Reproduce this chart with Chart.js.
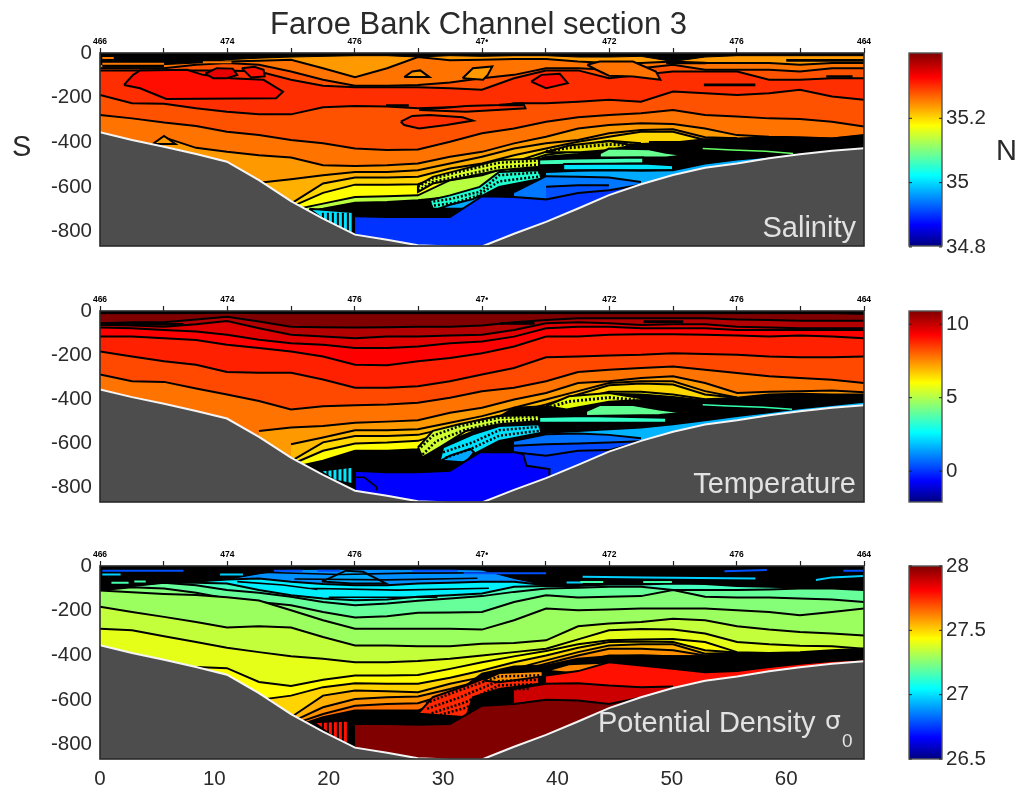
<!DOCTYPE html>
<html><head><meta charset="utf-8">
<script src="https://cdn.jsdelivr.net/npm/chart.js@4"></script>
<style>
html,body{margin:0;padding:0;background:#fff;width:1018px;height:791px;overflow:hidden}
#page{position:relative;width:1018px;height:791px;filter:blur(0.45px);font-family:"Liberation Sans",Arial,sans-serif;color:#2a2a2a}
canvas{position:absolute}
.t{position:absolute;white-space:nowrap;line-height:1}
.w{color:#e2e2e2;font-size:29px}
</style></head><body><div id="page">
<div class="t" style="left:270px;top:8px;font-size:31px">Faroe Bank Channel section 3</div>
<div class="t" style="left:12px;top:132px;font-size:29px">S</div>
<div class="t" style="left:996px;top:136px;font-size:29px">N</div>
<div class="t w" style="right:162px;top:213px;z-index:5">Salinity</div>
<div class="t w" style="right:162px;top:469px;z-index:5">Temperature</div>
<div class="t w" style="left:598px;top:708px;z-index:5">Potential Density</div>
<div class="t w" style="left:825px;top:708px;z-index:5;font-family:'DejaVu Sans';font-size:25px">σ</div>
<div class="t w" style="left:842px;top:731px;z-index:5;font-size:19px">0</div>
</div>
<script>
// ---------- axes ----------
const stations=[0,2.8,5.6,8.4,11.1,13.9,16.7,19.5,22.3,25.1,27.8,30.6,33.4,36.2,39,41.8,44.5,47.3,50.1,52.9,55.7,58.5,61.2,64,66.8];
const surfaceZ=[0,0,0,0,0,0,0,0,0,0,0,0,0,0,0,0,0,0,0,0,0,0,0,0,0];
const topTickValues=[0,5.57,11.13,16.7,22.27,27.83,33.4,38.97,44.53,50.1,55.67,61.23,66.8];
const topTickLabels=['466','','474','','476','','47\u2022','','472','','476','','464'];
const depthTicks=[0,-200,-400,-600,-800];
const distanceTicks=[0,10,20,30,40,50,60];
const salinityTicks=[34.8,35,35.2];
const temperatureTicks=[0,5,10];
const densityTicks=[26.5,27,27.5,28];
// ---------- sea floor ----------
const seaFloor=[355,390,420,453,487,570,664,742,814,837,862,867,867,810,757,697,637,588,547,514,495,472,454,438,427];
// ---------- salinity contours (depth, m) ----------
const salC1=[30,38,38,35,38,35,30,68,108,68,18,33,30,27,27,38,45,45,38,45,45,45,53,45,45];
const salC2=[68,68,68,53,45,53,83,120,147,147,143,132,113,98,68,68,75,68,53,75,75,75,83,68,68];
const salC3=[78,78,78,78,78,83,120,147,153,153,153,158,165,113,78,78,113,98,83,83,83,120,120,113,113];
const salC4=[188,225,228,248,263,275,275,243,237,240,248,243,255,225,225,218,210,218,173,180,188,180,165,195,210];
const salC5=[278,293,312,327,353,368,390,405,428,435,432,398,360,338,308,288,278,270,255,278,285,293,296,308,330];
const salC6=[null,null,378,425,443,458,468,503,506,503,495,465,443,405,375,338,323,315,318,338,368,375,378,383,368];
const salC7=[null,null,null,null,null,582,566,548,533,533,525,495,465,428,405,390,360,345,342,378,382,null,null,null,null];
const salC8=[null,null,null,null,null,null,675,585,558,558,555,518,495,458,428,398,375,353,353,390,383,null,null,null,null];
const salC9=[null,null,null,null,null,null,690,627,590,590,588,540,525,488,443,416,393,405,null,null,null,null,null,null,null];
const salC10=[null,null,null,null,null,null,705,675,645,642,638,570,548,503,456,438,420,407,null,null,null,null,null,null,null];
const salBlack=[null,null,null,null,null,null,720,698,671,668,660,645,615,518,465,453,429,408,402,387,383,378,381,383,371];
const salSky=[null,null,null,null,null,null,null,null,null,null,null,null,null,null,533,528,525,528,525,495,477,465,447,434,420];
const salBlue=[null,null,null,null,null,null,null,null,null,null,null,null,null,623,552,555,558,578,null,null,null,null,null,null,null];
const salBlue2=[null,null,null,null,null,null,null,null,null,null,null,null,null,null,600,593,593,null,null,null,null,null,null,null,null];
const salDeep=[null,null,null,null,null,null,null,null,732,735,735,735,642,645,656,627,615,590,null,null,null,null,null,null,null];
const salTop=[52,52,52,45,30,23,18,15,12,12,18,12,15,12,12,18,18,15,38,18,12,12,12,12,12];
// salinity closed contours
const salCoreX=[2.1,2.9,3.5,7.6,9,11.4,14.3,16,15.4,5.8,3.5,2.1], salCoreZ=[143,98,78,75,98,113,120,173,203,206,158,143];
const salLensAX=[9.2,10.2,11.6,12,11.1,9.9,9.2], salLensAZ=[93,68,70,98,113,113,93];
const salLensBX=[12.4,13.5,14.3,14.4,13.2,12.4], salLensBZ=[68,62,75,105,110,68];
const salWedgeAX=[26.6,27.3,28,28.8,26.6], salWedgeAZ=[108,83,78,108,108];
const salPatchAX=[26.3,27.3,28.8,31.7,32.6,30.3,27.9,26.6,26.3], salPatchAZ=[308,282,278,288,303,323,338,323,308];
const salPatchBX=[27.9,32,34.9,37,37.2,32,27.9], salPatchBZ=[255,237,233,225,248,263,255];
const salWedgeBX=[31.7,32.6,34.3,33.9,33.5,31.7], salWedgeBZ=[113,68,60,98,120,113];
const salCoreBX=[37.7,38.6,40.2,40.9,39,37.7], salCoreBZ=[128,98,93,135,158,128];
const salShelfX=[42.6,43.7,46.6,48.6,49,46.6,44.5,43.4,42.6], salShelfZ=[53,38,38,83,120,105,102,75,53];
const salBumpX=[4.6,5.6,6.6,4.6], salBumpZ=[408,372,408,408];
const salHatchYX=[27.8,29.1,31.4,34.9,38.4,38.4,34.9,32.1,29.1,27.8,27.8], salHatchYZ=[593,555,525,480,473,510,525,555,585,623,593];
const salHatchCX=[28.8,30.6,33.2,34.9,38.4,38.6,34.9,33.2,32.6,29.1,28.8], salHatchCZ=[660,638,600,533,525,563,600,645,698,698,660];
const salHatchBX=[30.6,32.6,33.2,32.6,29.6,30.6], salHatchBZ=[680,655,640,698,698,680];
const salHatchLX=[39,41,44.5,46.6,44.5,42,39], salHatchLZ=[445,415,395,415,435,445,445];
const salGreenX=[43.7,44.5,48,49.5,51.2,49.5,43.7,43.7], salGreenZ=[450,428,431,447,458,468,468,450];
const salAquaX=[38.4,41.6,47.5,47.5,38.4,38.4], salAquaZ=[477,473,468,495,503,477];
const salCyanX=[40.5,47.5,50.1,50.1,40.5,40.5], salCyanZ=[498,495,503,525,525,498];
const salWedgeX=[18.3,22.1,22.1,20.4,18.3], salWedgeZ=[698,713,810,780,698];
const salStripeX=[19.4,22.1], salStripeZ=[765,765];
const salDashAX=[27.8,29.1,31.4,34.9,38.4], salDashAZ=[600,562,532,492,482];
const salDashDX=[27.8,29.1,31.8,34.9,38.4], salDashDZ=[616,578,548,512,500];
const salDashBX=[28.8,30.6,33.2,34.9,38.5], salDashBZ=[668,655,622,548,535];
const salDashEX=[29.2,31,33,34.9,38.5], salDashEZ=[683,672,640,575,553];
const salDashCX=[39,41,44.5,46.6], salDashCZ=[440,425,410,412];
const salBarX=[48,51.5,null,52.8,57.3,null,63.5,65.8,null,49.5,53,null,25,27,null,34.9,37,null,0.2,5.6,null,60,66.8], salBarZ=[400,400,null,143,143,null,105,105,null,45,45,null,235,235,null,233,233,null,60,60,null,33,33];
const salStreakOX=[0.2,5.6,null,0.2,1.2,null,9,11.5], salStreakOZ=[48,48,null,22,22,null,42,42];
const salThinGX=[52.7,55.3,58.2,60.6], salThinGZ=[428,435,440,450];
// ---------- temperature contours (depth, m) ----------
const tempC1=[56,51,51,38,26,48,71,74,75,74,71,71,66,51,41,33,33,33,33,33,38,41,44,44,44];
const tempC2=[63,66,71,60,45,78,108,116,123,116,116,111,108,86,56,51,56,63,60,60,71,75,78,78,78];
const tempC3=[75,78,86,93,108,130,146,153,168,168,161,146,138,116,78,71,71,78,78,78,86,86,86,86,86];
const tempC4=[116,116,123,131,153,168,183,206,243,246,228,213,191,161,116,116,108,105,105,108,111,116,111,116,123];
const tempC5=[183,206,228,243,276,280,280,310,348,348,341,318,288,258,210,206,201,198,191,195,198,206,210,210,206];
const tempC6=[288,318,321,351,378,408,446,431,427,423,416,393,363,348,318,276,266,258,251,266,281,296,303,311,326];
const tempC7=[null,null,null,null,null,543,528,521,506,501,495,461,438,401,371,326,318,303,296,326,371,366,363,360,368];
const tempC8=[null,null,null,null,null,null,603,573,540,540,536,506,476,438,401,363,326,318,318,363,392,null,null,null,null];
const tempC9=[null,null,null,null,null,null,680,595,566,566,561,528,491,461,423,378,336,328,333,378,393,null,null,null,null];
const tempC10=[null,null,null,null,null,null,695,633,600,596,588,543,513,483,450,400,366,366,378,400,394,null,null,null,null];
const tempBlack=[null,null,null,null,null,null,710,678,633,633,626,588,528,438,431,405,375,378,390,405,393,378,375,378,378];
const tempSky=[null,null,null,null,null,null,null,null,null,null,null,null,null,null,551,543,535,528,513,495,476,459,441,426,411];
const tempBlue=[null,null,null,null,null,null,null,null,null,null,null,null,null,588,558,555,561,576,null,null,null,null,null,null,null];
const tempBlue2=[null,null,null,null,null,null,null,null,null,null,null,null,null,610,603,600,596,590,null,null,null,null,null,null,null];
const tempDeep=[null,null,null,null,null,null,null,null,723,730,730,723,640,640,655,633,630,592,null,null,null,null,null,null,null];
const tempTop=[12,12,12,12,10,12,12,12,12,12,12,12,12,12,12,12,12,12,12,12,12,12,12,12,15];
const tempHatchYX=[27.8,29.1,31.4,34.9,38.4,38.4,34.9,32,29.7,28.2,27.8], tempHatchYZ=[618,543,513,476,471,498,513,543,618,663,618];
const tempHatchCX=[30,32.6,34.9,38.4,38.6,34.9,32.7,32,29.7,30], tempHatchCZ=[618,558,521,513,551,588,648,686,678,618];
const tempHatchBX=[30.6,32.4,32.7,32,29.8,30.6], tempHatchBZ=[655,625,640,686,678,655];
const tempHatchLX=[39,41,44.5,48,44.5,40.8,39], tempHatchLZ=[431,386,371,401,411,446,431];
const tempGreenX=[42.5,43.7,46.6,48.9,51.2,48.9,42.5,42.5], tempGreenZ=[453,426,426,446,461,471,476,453];
const tempAquaX=[38.4,42.5,49.5,49.5,38.4,38.4], tempAquaZ=[480,476,483,506,506,480];
const tempWedgeX=[19.2,22.1,22.1,20.5,19.2], tempWedgeZ=[723,705,785,768,723];
const tempStripeX=[19.8,22.1], tempStripeZ=[760,760];
const tempAbyssX=[22.3,25,27.8,30.6,33.2,36.2,37,37.3,39.3,39.3,22.3,22.3], tempAbyssZ=[723,730,730,723,640,640,648,701,716,870,870,723];
const tempHookX=[22.4,23.1,24.2,24.2], tempHookZ=[753,753,798,813];
const tempDashAX=[27.8,29.1,31.4,34.9,38.4], tempDashAZ=[630,565,522,484,478];
const tempDashDX=[28.2,29.4,31.8,34.9,38.4], tempDashDZ=[650,590,540,503,490];
const tempDashBX=[30,32.6,34.9,38.5], tempDashBZ=[640,595,540,524];
const tempDashEX=[30.2,32.4,34.9,38.5], tempDashEZ=[665,625,565,542];
const tempDashCX=[39,41,44.5,47], tempDashCZ=[440,410,392,404];
const tempBarX=[0.2,7.3,null,35,38,null,47.5,51], tempBarZ=[60,60,null,56,56,null,48,48];
const tempThinGX=[52.7,55,58,60.5], tempThinGZ=[425,430,436,445];
// ---------- density contours (depth, m) ----------
const densCyan=[108,90,75,70,60,56,71,81,86,86,78,75,71,71,86,86,78,78,75,78,86,90,93,93,101];
const densAqua=[108,90,75,75,78,108,131,146,153,150,138,131,123,93,90,90,83,83,78,81,90,93,96,96,104];
const densL1=[108,90,75,86,108,120,138,161,176,168,156,146,135,116,101,98,93,93,108,108,108,105,101,101,108];
const densL2=[109,95,101,120,146,161,176,206,231,225,210,208,206,161,131,141,138,135,108,138,141,141,146,150,161];
const densL3=[110,118,125,130,140,155,198,243,281,281,281,281,285,243,191,198,195,191,191,191,198,206,221,206,191];
const densL4=[183,206,228,251,276,270,276,318,356,356,360,360,348,345,333,270,258,251,236,243,270,285,296,303,311];
const densL5=[281,288,315,341,366,386,405,416,431,431,426,416,401,386,371,329,288,282,285,303,341,351,357,360,371];
const densL6=[null,null,null,453,458,520,538,510,491,491,488,461,431,405,381,351,333,329,327,341,386,390,393,386,371];
const densL7=[null,null,null,null,null,600,581,543,525,528,528,501,468,431,401,366,341,338,341,378,388,null,null,null,null];
const densL8=[null,null,null,null,null,null,678,581,558,561,566,528,498,461,423,386,356,351,351,393,389,null,null,null,null];
const densL9=[null,null,null,null,null,null,700,633,596,588,585,551,513,476,438,401,371,371,378,401,390,null,null,null,null];
const densL10=[null,null,null,null,null,null,712,663,626,618,615,570,540,498,461,431,401,401,405,405,null,null,null,null,null];
const densBlack=[null,null,null,null,null,null,725,678,648,648,648,588,483,450,446,416,405,401,405,405,390,390,386,378,371];
const densRedMid=[null,null,null,null,null,null,null,null,null,null,null,null,null,null,491,471,431,446,460,476,471,453,438,426,419];
const densCrimson=[null,null,null,null,null,null,null,null,null,null,null,null,null,551,528,525,536,543,540,null,null,null,null,null,null];
const densMaroon=[null,null,null,null,null,null,null,null,708,708,711,708,626,618,600,603,618,590,null,null,null,null,null,null,null];
const densTop=[108,90,75,70,60,35,15,15,15,15,15,15,18,56,86,86,78,78,75,78,86,90,93,93,101];
const densSkyX=[19.4,21.5,23,25,22,19.4], densSkyZ=[70,21,26,78,78,70];
const densHatchRX=[27.8,29.1,32,34.9,38.4,38.4,34.9,32.6,32,28.2,27.8], densHatchRZ=[663,588,536,476,476,528,551,588,678,663,663];
const densHatchOX=[33.5,34.9,38.7,38.7,34.9,33.5], densHatchOZ=[513,480,471,495,521,513];
const densHatchLX=[39,41,44.5,47,44.5,41,39], densHatchLZ=[470,440,432,450,470,478,470];
const densWedgeX=[18.7,21.7,21.7,20.4,18.7], densWedgeZ=[700,693,800,768,700];
const densStripeX=[19.4,21.7], densStripeZ=[745,745];
const densDashAX=[28.5,31,34.9,38.4], densDashAZ=[615,565,495,490];
const densDashDX=[28.6,31.4,34.9,38.4], densDashDZ=[640,590,515,510];
const densDashBX=[29,32,34.9,38], densDashBZ=[660,610,535,530];
const densDashEX=[29.4,32,34.9,37.5], densDashEZ=[672,635,555,550];
const densBlueX=[0.2,7.3,null,15.2,17.7,null,19,21,null,27.3,31.3,null,31.8,39,null,54.6,58.3,null,65,66.7], densBlueZ=[21,21,null,21,21,null,21,21,null,21,21,null,33,33,null,24,18,null,21,21];
const densCyanLineX=[0.2,1.8,null,10.5,12.5,null,40.8,42.2,null,42.2,47.7,57.3,null,62.6,64,66.7], densCyanLineZ=[38,38,null,38,38,null,74,74,null,48,51,56,null,63,51,45];
const densGreenLineX=[1,2.5,null,3,4,null,42,44,null,47.5,50], densGreenLineZ=[75,75,null,70,70,null,72,72,null,72,72];
const densThinX=[14,21,27,37,null,17,25,33,null,20,29.5,null,18,26,34,null,12,16,19], densThinZ=[28,38,32,30,null,58,62,55,null,140,140,null,100,108,100,null,70,85,105];
// ---------- colour bar ranges ----------
const salinityRange=[34.803,35.403], temperatureRange=[-2.1,10.9], densityRange=[26.5,28];

// ---------- dataset helpers ----------
const EDGE=2;
const BEAD=[2,2];
const band=(z,color,edge)=>({data:stations.map((x,i)=>({x,y:z[i]==null?null:-z[i]})),fill:'start',backgroundColor:color,borderColor:edge||'#000',borderWidth:EDGE});
const above=(z)=>({data:stations.map((x,i)=>({x,y:-z[i]})),fill:'end',backgroundColor:'#000',borderColor:'#000',borderWidth:1});
const poly=(xs,zs,color)=>({data:xs.map((x,i)=>({x,y:-zs[i]})),fill:'shape',backgroundColor:color,borderColor:'#000',borderWidth:EDGE});
const path=(xs,zs,color,w,dash)=>({data:xs.map((x,i)=>({x:x==null?NaN:x,y:zs[i]==null?null:-zs[i]})),fill:false,borderColor:color,borderWidth:w,borderDash:dash||[]});
const floor=()=>({data:stations.map((x,i)=>({x,y:-seaFloor[i]})),fill:'start',backgroundColor:'#4d4d4d',borderColor:'#f4f4f4',borderWidth:2});

const salLayers=[
 band(surfaceZ,'#ff9900'),band(salC1,'#ff7300'),band(salC2,'#ff5200'),band(salC3,'#ff2e00'),
 poly(salCoreX,salCoreZ,'#ff0d00'),poly(salLensAX,salLensAZ,'#e80000'),poly(salLensBX,salLensBZ,'#ff1000'),
 poly(salWedgeAX,salWedgeAZ,'#ff9900'),poly(salWedgeBX,salWedgeBZ,'#ff9900'),poly(salCoreBX,salCoreBZ,'#ff0d00'),poly(salShelfX,salShelfZ,'#ff7300'),
 band(salC4,'#ff5200'),poly(salPatchAX,salPatchAZ,'#ff3000'),poly(salPatchBX,salPatchBZ,'#ff3000'),
 band(salC5,'#ff7300'),band(salC6,'#ff9900'),poly(salBumpX,salBumpZ,'#ff9900'),
 band(salC7,'#ffb000'),band(salC8,'#ffd500'),band(salC9,'#ffff00'),band(salC10,'#b8ff40'),
 band(salBlack,'#000'),
 poly(salHatchYX,salHatchYZ,'#d8ff20'),poly(salHatchCX,salHatchCZ,'#20ffd0'),poly(salHatchBX,salHatchBZ,'#00a8ff'),poly(salHatchLX,salHatchLZ,'#e6e600'),
 poly(salGreenX,salGreenZ,'#66ff90'),poly(salAquaX,salAquaZ,'#40ffb8'),poly(salCyanX,salCyanZ,'#00e5ff'),
 band(salSky,'#00aaff'),band(salBlue,'#0077ff'),band(salBlue2,'#0050ff'),band(salDeep,'#0033ff'),
 poly(salWedgeX,salWedgeZ,'#00e0ff'),path(salStripeX,salStripeZ,'#000',22,[2,3]),
 path(salDashAX,salDashAZ,'#000',2.5,BEAD),path(salDashDX,salDashDZ,'#000',2.5,BEAD),path(salDashBX,salDashBZ,'#000',2.5,BEAD),path(salDashEX,salDashEZ,'#000',2.5,BEAD),path(salDashCX,salDashCZ,'#000',3,BEAD),
 path(salThinGX,salThinGZ,'#66ff66',1.5),
 above(salTop),path(salStreakOX,salStreakOZ,'#ff7a00',2),path(salBarX,salBarZ,'#000',2.6),
 floor()];
const tempLayers=[
 band(surfaceZ,'#800000'),band(tempC1,'#b30000'),band(tempC2,'#e00000'),band(tempC3,'#ff0000'),band(tempC4,'#ff2000'),band(tempC5,'#ff4800'),band(tempC6,'#ff7400'),
 band(tempC7,'#ff9900'),band(tempC8,'#ffb800'),band(tempC9,'#ffd800'),band(tempC10,'#ffff00'),
 band(tempBlack,'#000'),
 poly(tempHatchYX,tempHatchYZ,'#d0ff30'),poly(tempHatchCX,tempHatchCZ,'#00e0ff'),poly(tempHatchBX,tempHatchBZ,'#00a8ff'),poly(tempHatchLX,tempHatchLZ,'#e6ff00'),
 poly(tempGreenX,tempGreenZ,'#60ff90'),poly(tempAquaX,tempAquaZ,'#30ffc8'),
 band(tempSky,'#00b4ff'),band(tempBlue,'#0070ff'),band(tempBlue2,'#0048ff'),band(tempDeep,'#0030ff'),
 poly(tempAbyssX,tempAbyssZ,'#0000ff'),path(tempHookX,tempHookZ,'#000',1.6),
 poly(tempWedgeX,tempWedgeZ,'#00e8ff'),path(tempStripeX,tempStripeZ,'#000',22,[2,3]),
 path(tempDashAX,tempDashAZ,'#000',2.5,BEAD),path(tempDashDX,tempDashDZ,'#000',2.5,BEAD),path(tempDashBX,tempDashBZ,'#000',2.5,BEAD),path(tempDashEX,tempDashEZ,'#000',2.5,BEAD),path(tempDashCX,tempDashCZ,'#000',3,BEAD),
 path(tempThinGX,tempThinGZ,'#33ffaa',1.5),
 above(tempTop),path(tempBarX,tempBarZ,'#000',2.6),
 floor()];
const densLayers=[
 band(surfaceZ,'#0090ff'),poly(densSkyX,densSkyZ,'#00aaff'),band(densCyan,'#00f0ff'),band(densAqua,'#44ffc0'),
 band(densL1,'#66ff99'),band(densL2,'#86ff78'),band(densL3,'#9cff60'),band(densL4,'#c4ff3c'),band(densL5,'#e6ff18'),band(densL6,'#ffff00'),
 band(densL7,'#ffd400'),band(densL8,'#ffb000'),band(densL9,'#ff9000'),band(densL10,'#ff7000'),
 band(densBlack,'#000'),
 poly(densHatchRX,densHatchRZ,'#ff2800'),poly(densHatchOX,densHatchOZ,'#ff9000'),poly(densHatchLX,densHatchLZ,'#ff8800'),
 band(densRedMid,'#ff1000'),band(densCrimson,'#cc0000'),band(densMaroon,'#800000'),
 poly(densWedgeX,densWedgeZ,'#ff1000'),path(densStripeX,densStripeZ,'#000',30,[2,3]),
 path(densDashAX,densDashAZ,'#000',2.5,BEAD),path(densDashDX,densDashDZ,'#000',2.5,BEAD),path(densDashBX,densDashBZ,'#000',2.5,BEAD),path(densDashEX,densDashEZ,'#000',2.5,BEAD),
 path(densThinX,densThinZ,'#000',1.6),
 above(densTop),path(densBlueX,densBlueZ,'#0050ff',2),path(densCyanLineX,densCyanLineZ,'#00d0ff',2),path(densGreenLineX,densGreenLineZ,'#44ffaa',2),
 floor()];

const tickFont={family:'"Liberation Sans",Arial,sans-serif',size:20.5};
const noPad=s=>{s.paddingTop=0;s.paddingBottom=0;s.paddingLeft=0;s.paddingRight=0;};
const frame={id:'frame',afterDatasetsDraw(c){const a=c.chartArea,x=c.ctx;x.save();x.strokeStyle='#2a2a2a';x.lineWidth=1.6;x.strokeRect(a.left,a.top,a.width,a.height);x.restore();}};
function addCanvas(left,top,w,h){const el=document.createElement('canvas');el.width=w;el.height=h;el.style.cssText=`left:${left}px;top:${top}px;width:${w}px;height:${h}px`;document.getElementById('page').appendChild(el);return el;}
function panel(top,plotH,layers,showX){
  const head=25,foot=showX?32:10;
  const el=addCanvas(0,top-head,890,plotH+head+foot);
  layers.forEach((d,i)=>{d.order=layers.length-i;d.pointRadius=0;d.tension=0;d.spanGaps=false;d.xAxisID='x';d.yAxisID='y';});
  new Chart(el,{type:'line',data:{datasets:layers},plugins:[frame],options:{
    responsive:false,animation:false,events:[],
    layout:{padding:{left:0,right:26,top:0,bottom:0}},
    plugins:{legend:{display:false},tooltip:{enabled:false},title:{display:false}},
    scales:{
      x:{type:'linear',position:'bottom',display:showX,min:0,max:66.8,grid:{display:false,drawTicks:false},border:{display:false},
         afterBuildTicks:s=>{s.ticks=distanceTicks.map(v=>({value:v}));},
         afterFit:s=>{s.height=foot;noPad(s);},
         ticks:{font:tickFont,color:'#2a2a2a',padding:8,maxRotation:0,autoSkip:false}},
      xTop:{type:'linear',position:'top',min:0,max:66.8,border:{display:false},
         grid:{drawOnChartArea:false,tickLength:5,color:'#222',tickWidth:1.2},
         afterBuildTicks:s=>{s.ticks=topTickValues.map(v=>({value:v}));},
         afterFit:s=>{s.height=head;noPad(s);},
         ticks:{font:{family:'"Liberation Sans",Arial',size:8.5,weight:'bold'},color:'#000',padding:1,maxRotation:0,autoSkip:false,callback:(v,i)=>topTickLabels[i]}},
      y:{type:'linear',position:'left',min:-865,max:0,grid:{display:false,drawTicks:false},border:{display:false},
         afterBuildTicks:s=>{s.ticks=depthTicks.map(v=>({value:v}));},
         afterFit:s=>{s.width=100;noPad(s);},
         ticks:{font:tickFont,color:'#2a2a2a',padding:8,autoSkip:false,callback:v=>String(v)}}
    }}});
}
function colorbar(top,plotH,range,ticks){
  const pad=14,left=909,right=942;
  const el=addCanvas(left-9,top-pad,1018-left+9,plotH+pad*2);
  const jet={id:'barframe',afterDatasetsDraw(c){const a=c.chartArea,x=c.ctx,s=c.scales.y;x.save();x.strokeStyle='#555';x.lineWidth=1.4;x.strokeRect(a.left,a.top,a.width,a.height);
    x.strokeStyle='#222';x.lineWidth=1;ticks.forEach(v=>{const p=s.getPixelForValue(v);x.beginPath();x.moveTo(a.left,p);x.lineTo(a.left+3,p);x.moveTo(a.right,p);x.lineTo(a.right-3,p);x.stroke();});x.restore();}};
  new Chart(el,{type:'bar',data:{labels:[''],datasets:[{data:[range],barPercentage:1,categoryPercentage:1,borderSkipped:false,
    backgroundColor:c=>{const a=c.chart.chartArea;if(!a)return '#888';const g=c.chart.ctx.createLinearGradient(0,a.bottom,0,a.top);
      [[0,'#000080'],[.11,'#0000ff'],[.365,'#00ffff'],[.625,'#ffff00'],[.875,'#ff0000'],[1,'#800000']].forEach(s=>g.addColorStop(s[0],s[1]));return g;}}]},
    plugins:[jet],options:{responsive:false,animation:false,events:[],
    layout:{padding:{left:9,top:pad,bottom:pad,right:0}},
    plugins:{legend:{display:false},tooltip:{enabled:false}},
    scales:{x:{display:false,afterFit:s=>{s.height=0;noPad(s);}},
      y:{position:'right',min:range[0],max:range[1],grid:{display:false,drawTicks:false},border:{display:false},
        afterBuildTicks:s=>{s.ticks=ticks.map(v=>({value:v}));},
        afterFit:s=>{s.width=1018-right;noPad(s);},
        ticks:{font:tickFont,color:'#2a2a2a',padding:4,autoSkip:false,callback:v=>String(v)}}}}});
}
panel(53,193,salLayers,false);
panel(311,191,tempLayers,false);
panel(566,193,densLayers,true);
colorbar(53,193,salinityRange,salinityTicks);
colorbar(311,191,temperatureRange,temperatureTicks);
colorbar(566,193,densityRange,densityTicks);
</script></body></html>
